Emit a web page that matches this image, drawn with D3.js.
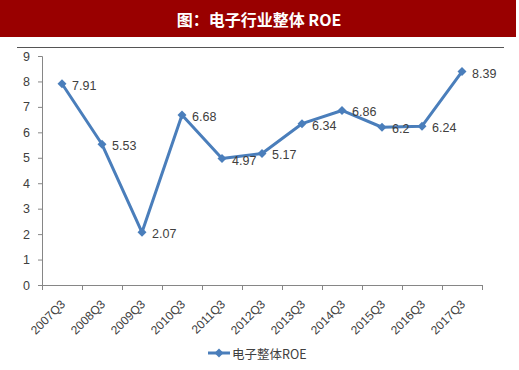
<!DOCTYPE html>
<html><head><meta charset="utf-8">
<script src="https://cdn.jsdelivr.net/npm/d3@7/dist/d3.min.js"></script>
<style>body{margin:0;background:#fff;} svg{display:block;}</style>
</head><body>
<script>
const categories = ["2007Q3","2008Q3","2009Q3","2010Q3","2011Q3","2012Q3","2013Q3","2014Q3","2015Q3","2016Q3","2017Q3"];
const roeValues = [7.91,5.53,2.07,6.68,4.97,5.17,6.34,6.86,6.2,6.24,8.39];
const valueLabels = ["7.91","5.53","2.07","6.68","4.97","5.17","6.34","6.86","6.2","6.24","8.39"];
const yTicks = [0,1,2,3,4,5,6,7,8,9];
const titleText = "图：电子行业整体 ROE";
const seriesName = "电子整体ROE";

const W = 519, H = 370;
const svg = d3.select("body").append("svg").attr("width", W).attr("height", H);
const blue = "#4a7ebb", axisCol = "#868686", txt = "#404040";
const font = "'Liberation Sans', Arial, sans-serif";

// title bar
svg.append("rect").attr("x",0).attr("y",0).attr("width",516).attr("height",37).attr("fill","#990000");
svg.append("text").attr("x",259).attr("y",19).attr("text-anchor","middle").attr("dominant-baseline","central")
  .attr("fill","#fff").attr("font-size",16).attr("font-weight","bold")
  .attr("font-family","'Noto Sans CJK SC', sans-serif").text(titleText);
svg.append("line").attr("x1",17).attr("x2",504).attr("y1",47.5).attr("y2",47.5).attr("stroke","#555").attr("stroke-width",1.2);

const x = d3.scaleBand().domain(categories).range([42,482]);
const y = d3.scaleLinear().domain([0,9]).range([285,56]);

// y axis
const ya = svg.append("g").attr("transform","translate(42,0)")
  .call(d3.axisLeft(y).tickValues(yTicks).tickSize(4).tickPadding(8).tickFormat(d3.format("d")));
ya.select(".domain").attr("stroke",axisCol).attr("d","M-4,56.5H0.5V285.5");
ya.selectAll(".tick line").attr("stroke",axisCol);
ya.selectAll(".tick text").attr("fill",txt).attr("font-size",12.5).attr("font-family",font);

// x axis
const xa = svg.append("g").attr("transform","translate(0,285)");
xa.append("line").attr("x1",42).attr("x2",482).attr("y1",0.5).attr("y2",0.5).attr("stroke",axisCol);
const edges = categories.map(c => x(c)).concat([x.range()[1]]);
xa.selectAll("line.tk").data(edges).join("line").attr("class","tk")
  .attr("x1",d=>Math.round(d)+0.5).attr("x2",d=>Math.round(d)+0.5).attr("y1",0).attr("y2",5).attr("stroke",axisCol);
xa.selectAll("text").data(categories).join("text")
  .attr("transform", d => `translate(${x(d)+x.bandwidth()/2+1},17) rotate(-45)`)
  .attr("text-anchor","end").attr("dy","0.35em")
  .attr("fill",txt).attr("font-size",12).attr("font-family",font).text(d=>d);

// line
const pts = categories.map((c,i)=>({c, v: roeValues[i], l: valueLabels[i]}));
svg.append("path").datum(pts)
  .attr("d", d3.line().x(d=>x(d.c)+x.bandwidth()/2).y(d=>y(d.v)))
  .attr("fill","none").attr("stroke",blue).attr("stroke-width",3).attr("stroke-linejoin","round");
const marker = d3.symbol().type(d3.symbolSquare).size(40);
svg.selectAll("path.mk").data(pts).join("path").attr("class","mk")
  .attr("transform", d=>`translate(${x(d.c)+x.bandwidth()/2},${y(d.v)}) rotate(45)`)
  .attr("d", marker).attr("fill",blue);
svg.selectAll("text.lbl").data(pts).join("text").attr("class","lbl")
  .attr("x", d=>x(d.c)+x.bandwidth()/2+10).attr("y", d=>y(d.v)+2)
  .attr("dominant-baseline","central")
  .attr("fill",txt).attr("font-size",12.5).attr("font-family",font).text(d=>d.l);

// legend
const lg = svg.append("g");
lg.append("line").attr("x1",208).attr("x2",230).attr("y1",353).attr("y2",353).attr("stroke",blue).attr("stroke-width",3);
lg.append("path").attr("transform","translate(219,353) rotate(45)").attr("d",marker).attr("fill",blue);
lg.append("text").attr("x",232).attr("y",353).attr("dominant-baseline","central")
  .attr("fill",txt).attr("font-size",12.5).attr("font-family","'Noto Sans CJK SC', sans-serif").text(seriesName);
</script>
</body></html>
